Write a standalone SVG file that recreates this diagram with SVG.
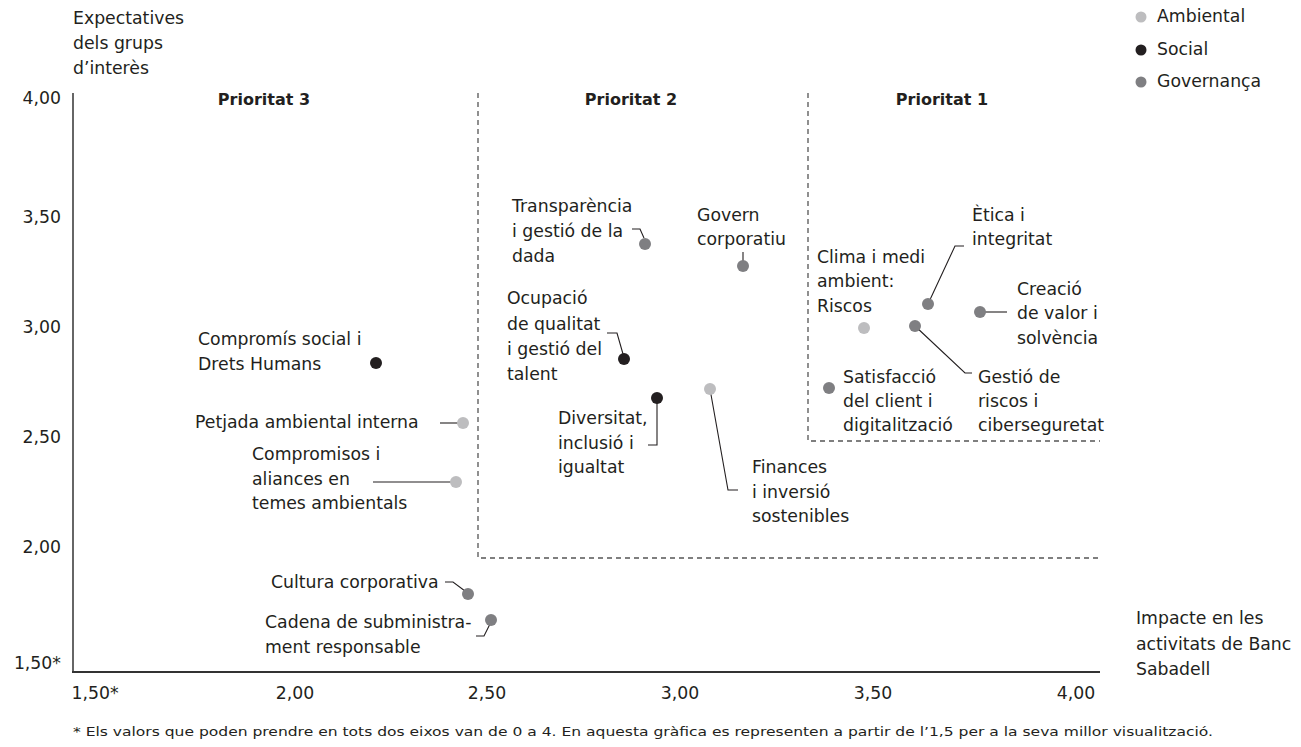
<svg xmlns="http://www.w3.org/2000/svg" width="1301" height="747" viewBox="0 0 1301 747">
<style>
text{font-family:"DejaVu Sans","Liberation Sans",sans-serif;font-size:17.3px;fill:#231f20}
.b{font-weight:bold;text-anchor:middle;font-size:16px}
.tr{text-anchor:end}
.tm{text-anchor:middle}
.fn{font-size:13px}
.amb{fill:#bdbdbf}
.soc{fill:#231f20}
.gov{fill:#7f7f82}
.dash{fill:none;stroke:#555;stroke-width:1.3;stroke-dasharray:5,4}
.ln{fill:none;stroke:#231f20;stroke-width:1.1}
</style>
<rect width="1301" height="747" fill="#fff"/>
<g id="axes">
<line x1="73" y1="93" x2="73" y2="672" stroke="#666" stroke-width="2"/>
<line x1="72" y1="672" x2="1100" y2="672" stroke="#333" stroke-width="2"/>
<text x="73" y="24">Expectatives</text>
<text x="73" y="49">dels grups</text>
<text x="73" y="74">d’interès</text>
<text class="tr" x="61" y="104">4,00</text>
<text class="tr" x="61" y="223">3,50</text>
<text class="tr" x="61" y="333">3,00</text>
<text class="tr" x="61" y="443">2,50</text>
<text class="tr" x="61" y="553">2,00</text>
<text class="tr" x="61" y="669">1,50*</text>
<text class="tm" x="95" y="699">1,50*</text>
<text class="tm" x="295" y="699">2,00</text>
<text class="tm" x="487" y="699">2,50</text>
<text class="tm" x="680" y="699">3,00</text>
<text class="tm" x="873" y="699">3,50</text>
<text class="tm" x="1076" y="699">4,00</text>
<text x="1136" y="624">Impacte en les</text>
<text x="1136" y="650">activitats de Banc</text>
<text x="1136" y="675">Sabadell</text>
<text class="fn" x="73" y="736" textLength="1140" lengthAdjust="spacingAndGlyphs">* Els valors que poden prendre en tots dos eixos van de 0 a 4. En aquesta gràfica es representen a partir de l’1,5 per a la seva millor visualització.</text>
</g>
<g id="zones">
<path class="dash" d="M478,93 V558 H1100"/>
<path class="dash" d="M808,93 V441 H1100"/>
<text class="b" x="264" y="105">Prioritat 3</text>
<text class="b" x="631" y="105">Prioritat 2</text>
<text class="b" x="942" y="105">Prioritat 1</text>
</g>
<g id="legend">
<circle class="amb" cx="1141" cy="17" r="5.5"/>
<text x="1157" y="22">Ambiental</text>
<circle class="soc" cx="1141" cy="50" r="5.5"/>
<text x="1157" y="55">Social</text>
<circle class="gov" cx="1141" cy="82" r="5.5"/>
<text x="1157" y="87">Governança</text>
</g>
<g id="connectors">
<polyline class="ln" points="632,229 640,229 644,238"/>
<polyline class="ln" points="743,252 743,262"/>
<polyline class="ln" points="607,333 617,333 623,354"/>
<polyline class="ln" points="657,398 657,445 648,445"/>
<polyline class="ln" points="710,389 728,490 738,490"/>
<polyline class="ln" points="928,304 955,246 964,246"/>
<polyline class="ln" points="980,312 1007,312"/>
<polyline class="ln" points="915,326 965,373 972,373"/>
<polyline class="ln" points="440,423 462,423"/>
<polyline class="ln" points="373,482 456,482"/>
<polyline class="ln" points="445,582 453,582 465,591"/>
<polyline class="ln" points="490,624 484,636 476,636"/>
</g>
<g id="n-transparencia"><circle class="gov" cx="645" cy="244" r="6"/><text x="512" y="212">Transparència</text><text x="512" y="237">i gestió de la</text><text x="512" y="262">dada</text></g>
<g id="n-govern"><circle class="gov" cx="743" cy="266" r="6"/><text x="697" y="221">Govern</text><text x="697" y="245">corporatiu</text></g>
<g id="n-ocupacio"><circle class="soc" cx="624" cy="359" r="6"/><text x="507" y="304">Ocupació</text><text x="507" y="330">de qualitat</text><text x="507" y="355">i gestió del</text><text x="507" y="380">talent</text></g>
<g id="n-diversitat"><circle class="soc" cx="657" cy="398" r="6"/><text x="558" y="424">Diversitat,</text><text x="558" y="449">inclusió i</text><text x="558" y="473">igualtat</text></g>
<g id="n-finances"><circle class="amb" cx="710" cy="389" r="6"/><text x="752" y="473">Finances</text><text x="752" y="498">i inversió</text><text x="752" y="522">sostenibles</text></g>
<g id="n-etica"><circle class="gov" cx="928" cy="304" r="6"/><text x="972" y="221">Ètica i</text><text x="972" y="245">integritat</text></g>
<g id="n-creacio"><circle class="gov" cx="980" cy="312" r="6"/><text x="1017" y="295">Creació</text><text x="1017" y="319">de valor i</text><text x="1017" y="344">solvència</text></g>
<g id="n-clima"><circle class="amb" cx="864" cy="328" r="6"/><text x="817" y="263">Clima i medi</text><text x="817" y="287">ambient:</text><text x="817" y="312">Riscos</text></g>
<g id="n-gestio"><circle class="gov" cx="915" cy="326" r="6"/><text x="978" y="383">Gestió de</text><text x="978" y="407">riscos i</text><text x="978" y="431">ciberseguretat</text></g>
<g id="n-satisfaccio"><circle class="gov" cx="829" cy="388" r="6"/><text x="843" y="383">Satisfacció</text><text x="843" y="407">del client i</text><text x="843" y="431">digitalització</text></g>
<g id="n-compromis"><circle class="soc" cx="376" cy="363" r="6"/><text x="198" y="345">Compromís social i</text><text x="198" y="370">Drets Humans</text></g>
<g id="n-petjada"><circle class="amb" cx="463" cy="423" r="6"/><text x="195" y="428">Petjada ambiental interna</text></g>
<g id="n-compromisos"><circle class="amb" cx="456" cy="482" r="6"/><text x="252" y="460">Compromisos i</text><text x="252" y="485">aliances en</text><text x="252" y="509">temes ambientals</text></g>
<g id="n-cultura"><circle class="gov" cx="468" cy="594" r="6"/><text x="271" y="588">Cultura corporativa</text></g>
<g id="n-cadena"><circle class="gov" cx="491" cy="620" r="6"/><text x="265" y="628">Cadena de subministra-</text><text x="265" y="653">ment responsable</text></g>
</svg>
